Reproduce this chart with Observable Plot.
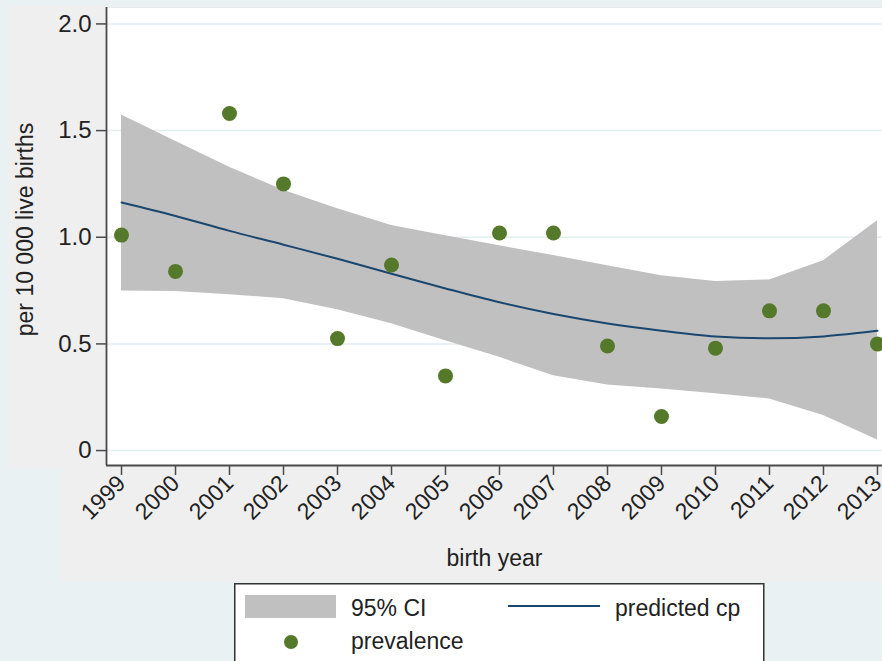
<!DOCTYPE html>
<html>
<head>
<meta charset="utf-8">
<script src="https://cdn.jsdelivr.net/npm/d3@7"></script>
<script src="https://cdn.jsdelivr.net/npm/@observablehq/plot@0.6"></script>
<style>
  html, body { margin: 0; padding: 0; background: #e9f1f3; }
  #wrap { position: relative; width: 882px; height: 661px; overflow: hidden; background: #e9f1f3;
          font-family: "Liberation Sans", Arial, sans-serif; }
  .bg { position: absolute; background: #efefef; }
  #chart { position: absolute; left: 0; top: 0; }
  #legend { position: absolute; left: 234px; top: 583px; }
</style>
</head>
<body>
<div id="wrap">
  <div class="bg" style="left:8px;top:6px;width:874px;height:462px;"></div>
  <div class="bg" style="left:62px;top:468px;width:820px;height:114px;"></div>
  <div id="chart"></div>
  <div id="legend"></div>
</div>
<script>
// ---- data ----
const years      = [1999, 2000, 2001, 2002, 2003, 2004, 2005, 2006, 2007, 2008, 2009, 2010, 2011, 2012, 2013];
const prevalence = [1.01, 0.84, 1.58, 1.25, 0.525, 0.87, 0.35, 1.02, 1.02, 0.49, 0.16, 0.48, 0.655, 0.655, 0.50];
const predicted  = [1.163, 1.10, 1.03, 0.965, 0.899, 0.829, 0.76, 0.695, 0.64, 0.596, 0.562, 0.535, 0.526, 0.535, 0.562];
const ciUpper    = [1.573, 1.45, 1.328, 1.22, 1.134, 1.055, 1.007, 0.96, 0.914, 0.866, 0.82, 0.793, 0.80, 0.89, 1.077];
const ciLower    = [0.748, 0.746, 0.73, 0.712, 0.66, 0.595, 0.515, 0.437, 0.351, 0.307, 0.289, 0.266, 0.242, 0.164, 0.05];
const yTicks     = [0, 0.5, 1, 1.5, 2];
const yTickLabels = ["0", "0.5", "1.0", "1.5", "2.0"];
const xDomain    = [1998.722, 2013.093];
const yDomain    = [-0.07, 2.077];
const legendItems = ["95% CI", "predicted cp", "prevalence"];
const titles = {y: "per 10 000 live births", x: "birth year"};

const rows = years.map((year, i) => ({
  year, prev: prevalence[i], pred: predicted[i], hi: ciUpper[i], lo: ciLower[i]
}));

const font = '"Liberation Sans", Arial, sans-serif';
const green = "#55792a", navy = "#1a476f", band = "#c0c0c0", axisCol = "#4a4a4a", textCol = "#222";

const chart = Plot.plot({
  width: 882,
  height: 582,
  marginLeft: 106,
  marginRight: 0,
  marginTop: 7,
  marginBottom: 117,
  style: {background: "transparent", fontFamily: font, color: textCol, overflow: "visible"},
  x: {domain: xDomain},
  y: {domain: yDomain},
  marks: [
    Plot.frame({fill: "white", stroke: "#e2ebee"}),
    Plot.gridY(yTicks, {stroke: "#e3edf0", strokeOpacity: 1, strokeWidth: 1.5}),
    Plot.areaY(rows, {x: "year", y1: "lo", y2: "hi", fill: band}),
    Plot.line(rows, {x: "year", y: "pred", stroke: navy, strokeWidth: 2, curve: "catmull-rom"}),
    Plot.dot(rows, {x: "year", y: "prev", r: 7.5, fill: green, stroke: "none"}),
    Plot.ruleX([xDomain[0]], {stroke: axisCol, strokeWidth: 1.8}),
    Plot.ruleY([yDomain[0]], {stroke: axisCol, strokeWidth: 1.8}),
    Plot.axisY(yTicks, {
      tickSize: 10, tickPadding: 5, stroke: axisCol, strokeWidth: 1.5, fill: textCol,
      fontSize: 24, label: null,
      tickFormat: d => yTickLabels[yTicks.indexOf(d)]
    }),
    Plot.axisX(years, {
      tickSize: 10, tickPadding: 4, stroke: axisCol, strokeWidth: 1.5, fill: textCol,
      fontSize: 23, tickRotate: -45, label: null,
      tickFormat: d => String(d)
    }),
    Plot.text([titles.y], {
      frameAnchor: "left", textAnchor: "middle", rotate: -90, dx: -81, dy: -7,
      fontSize: 23, fill: textCol, text: d => d
    }),
    Plot.text([titles.x], {
      frameAnchor: "bottom", dy: 100,
      fontSize: 23, fill: textCol, text: d => d
    })
  ]
});
document.getElementById("chart").appendChild(chart);

// ---- legend ----
const lg = d3.select("#legend").append("svg")
  .attr("width", 531).attr("height", 80)
  .style("font-family", font).style("font-size", "23px");
lg.append("rect").attr("x", 0.75).attr("y", 0.75).attr("width", 529).attr("height", 110)
  .attr("fill", "white").attr("stroke", "#333").attr("stroke-width", 1.5);
lg.append("rect").attr("x", 11).attr("y", 12).attr("width", 91).attr("height", 23).attr("fill", band);
lg.append("text").attr("x", 117).attr("y", 33).attr("fill", textCol).text(legendItems[0]);
lg.append("line").attr("x1", 274).attr("x2", 366).attr("y1", 23).attr("y2", 23)
  .attr("stroke", navy).attr("stroke-width", 2);
lg.append("text").attr("x", 381).attr("y", 33).attr("fill", textCol).text(legendItems[1]);
lg.append("circle").attr("cx", 57).attr("cy", 59).attr("r", 7).attr("fill", green);
lg.append("text").attr("x", 117).attr("y", 66).attr("fill", textCol).text(legendItems[2]);
</script>
</body>
</html>
